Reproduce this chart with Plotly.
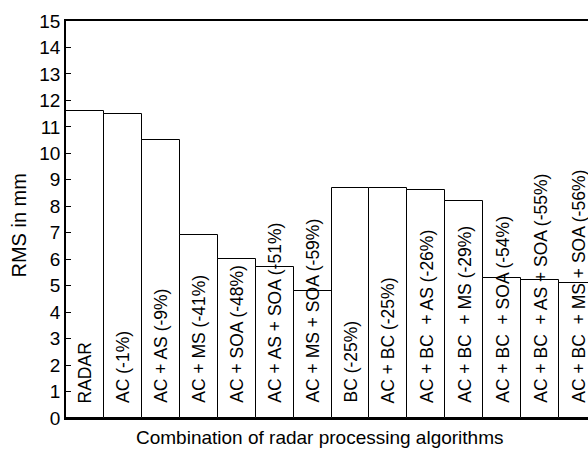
import plotly.graph_objects as go

# RMS error (mm) per combination of radar processing algorithms
categories = [
    "RADAR",
    "AC (-1%)",
    "AC + AS (-9%)",
    "AC + MS (-41%)",
    "AC + SOA (-48%)",
    "AC + AS + SOA (-51%)",
    "AC + MS + SOA (-59%)",
    "BC (-25%)",
    "AC + BC (-25%)",
    "AC + BC  + AS (-26%)",
    "AC + BC  + MS (-29%)",
    "AC + BC  + SOA (-54%)",
    "AC + BC  + AS + SOA (-55%)",
    "AC + BC  + MS + SOA (-56%)",
]
rms_mm = [11.6, 11.5, 10.5, 6.9, 6.0, 5.7, 4.8, 8.7, 8.7, 8.6, 8.2, 5.3, 5.2, 5.1]
y_ticks = list(range(0, 16))

FONT = "Liberation Sans, Arial, Helvetica, sans-serif"
xpos = list(range(len(categories)))

fig = go.Figure()
fig.add_trace(go.Bar(
    x=xpos,
    y=rms_mm,
    width=1.0,
    marker=dict(color="white", line=dict(color="black", width=1)),
    hoverinfo="x+y",
    showlegend=False,
))

# vertical labels written inside each bar, reading bottom to top
for xi, label in zip(xpos, categories):
    fig.add_annotation(
        x=xi, y=0, xref="x", yref="y",
        text=label, textangle=-90,
        showarrow=False, xanchor="center", yanchor="bottom",
        yshift=13,
        font=dict(family=FONT, size=17.5, color="black"),
    )

# axis titles
fig.add_annotation(
    x=0.487, y=0, xref="paper", yref="paper",
    text="Combination of radar processing algorithms",
    showarrow=False, xanchor="center", yanchor="middle", yshift=-19,
    font=dict(family=FONT, size=19, color="black"),
)
fig.add_annotation(
    x=0, y=0.5, xref="paper", yref="paper",
    text="RMS in mm", textangle=-90,
    showarrow=False, xanchor="center", yanchor="middle", xshift=-48, yshift=-6,
    font=dict(family=FONT, size=20, color="black"),
)

fig.update_layout(
    width=588, height=449,
    margin=dict(l=66, r=0, t=21, b=31),
    paper_bgcolor="white", plot_bgcolor="white",
    font=dict(family=FONT, size=17, color="black"),
    bargap=0,
    xaxis=dict(
        range=[-0.5, 13.26],
        showticklabels=False, ticks="", showgrid=False, zeroline=False,
        showline=True, linecolor="black", linewidth=2, mirror=True,
    ),
    yaxis=dict(
        range=[0, 15],
        tickvals=y_ticks, ticktext=[str(v) for v in y_ticks],
        ticks="inside", ticklen=5, tickcolor="black", tickwidth=1,
        showgrid=False, zeroline=False,
        showline=True, linecolor="black", linewidth=1.5,
        tickfont=dict(family=FONT, size=19, color="black"),
    ),
)

fig.write_html("out.html")
